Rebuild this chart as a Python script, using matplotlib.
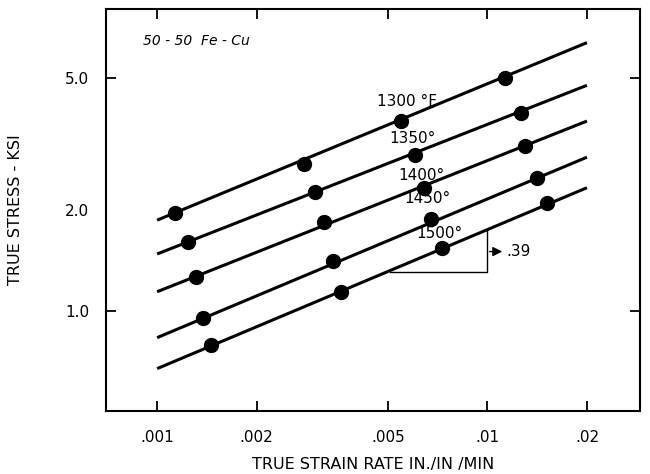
import matplotlib.pyplot as plt
import matplotlib.ticker as mticker

plt.rcParams['font.family'] = ['DejaVu Sans']

# strain rate range of the fitted lines
x_line = [0.001, 0.02]

temps = ['1300 °F', '1350°', '1400°', '1450°', '1500°']

# fitted line ends (stress at .001 and .02)
y_line_1300 = [1.87, 6.38]
y_line_1350 = [1.48, 4.75]
y_line_1400 = [1.14, 3.71]
y_line_1450 = [0.83, 2.89]
y_line_1500 = [0.67, 2.34]

# measured points
x_pts_1300 = [0.00113, 0.00279, 0.00549, 0.0113]
y_pts_1300 = [1.96, 2.75, 3.70, 5.00]
x_pts_1350 = [0.00124, 0.00301, 0.00605, 0.0126]
y_pts_1350 = [1.61, 2.27, 2.94, 3.93]
x_pts_1400 = [0.00131, 0.00319, 0.00643, 0.0130]
y_pts_1400 = [1.26, 1.85, 2.33, 3.12]
x_pts_1450 = [0.00138, 0.00341, 0.00673, 0.0141]
y_pts_1450 = [0.95, 1.41, 1.89, 2.51]
x_pts_1500 = [0.00146, 0.00360, 0.00727, 0.0151]
y_pts_1500 = [0.79, 1.135, 1.54, 2.11]

# label anchor points
x_lab = [0.0057, 0.00595, 0.00633, 0.00656, 0.00715]
y_lab = [4.24, 3.29, 2.55, 2.17, 1.705]

xticks = [0.001, 0.002, 0.005, 0.01, 0.02]
xticklabels = ['.001', '.002', '.005', '.01', '.02']
yticks = [1.0, 2.0, 5.0]
yticklabels = ['1.0', '2.0', '5.0']

fig = plt.figure(figsize=(6.5, 4.74), dpi=100)
ax = fig.add_axes([0.163, 0.133, 0.822, 0.848])

lines = [y_line_1300, y_line_1350, y_line_1400, y_line_1450, y_line_1500]
xs = [x_pts_1300, x_pts_1350, x_pts_1400, x_pts_1450, x_pts_1500]
ys = [y_pts_1300, y_pts_1350, y_pts_1400, y_pts_1450, y_pts_1500]

for yl, xp, yp in zip(lines, xs, ys):
    ax.plot(x_line, yl, color='black', lw=2.2, solid_capstyle='butt')
    ax.plot(xp, yp, 'o', color='black', markersize=10)

for t, xl, yl in zip(temps, x_lab, y_lab):
    ax.text(xl, yl, t, ha='center', va='center', fontsize=11)

# slope triangle
ax.plot([0.00507, 0.00995, 0.00995], [1.307, 1.307, 1.748], color='black', lw=1)
ax.annotate('', xy=(0.0113, 1.505), xytext=(0.00995, 1.505),
            arrowprops=dict(arrowstyle='-|>', color='black', lw=1, mutation_scale=14))
ax.text(0.0114, 1.505, '.39', ha='left', va='center', fontsize=11)

ax.text(0.069, 0.92, '50 - 50  Fe - Cu', transform=ax.transAxes, fontsize=10,
        style='italic', ha='left', va='center')

ax.set_xscale('log')
ax.set_yscale('log')
ax.set_xlim(0.0007, 0.029)
ax.set_ylim(0.5, 8.05)

ax.set_xticks(xticks)
ax.set_xticklabels(xticklabels)
ax.set_yticks(yticks)
ax.set_yticklabels(yticklabels)
ax.xaxis.set_minor_locator(mticker.NullLocator())
ax.yaxis.set_minor_locator(mticker.NullLocator())
ax.tick_params(direction='in', length=7, width=1.3, top=True, right=True,
               labelsize=11)
ax.tick_params(axis='x', pad=14)
ax.tick_params(axis='y', pad=12)
ax.yaxis.get_major_ticks()[1].tick1line.set_visible(False)
ax.yaxis.get_major_ticks()[1].tick2line.set_visible(False)

for s in ax.spines.values():
    s.set_linewidth(1.5)

ax.set_xlabel('TRUE STRAIN RATE IN./IN /MIN', fontsize=11.5, labelpad=8)
ax.set_ylabel('TRUE STRESS - KSI', fontsize=11.5, labelpad=30)

fig.savefig('out.png', dpi=100)
